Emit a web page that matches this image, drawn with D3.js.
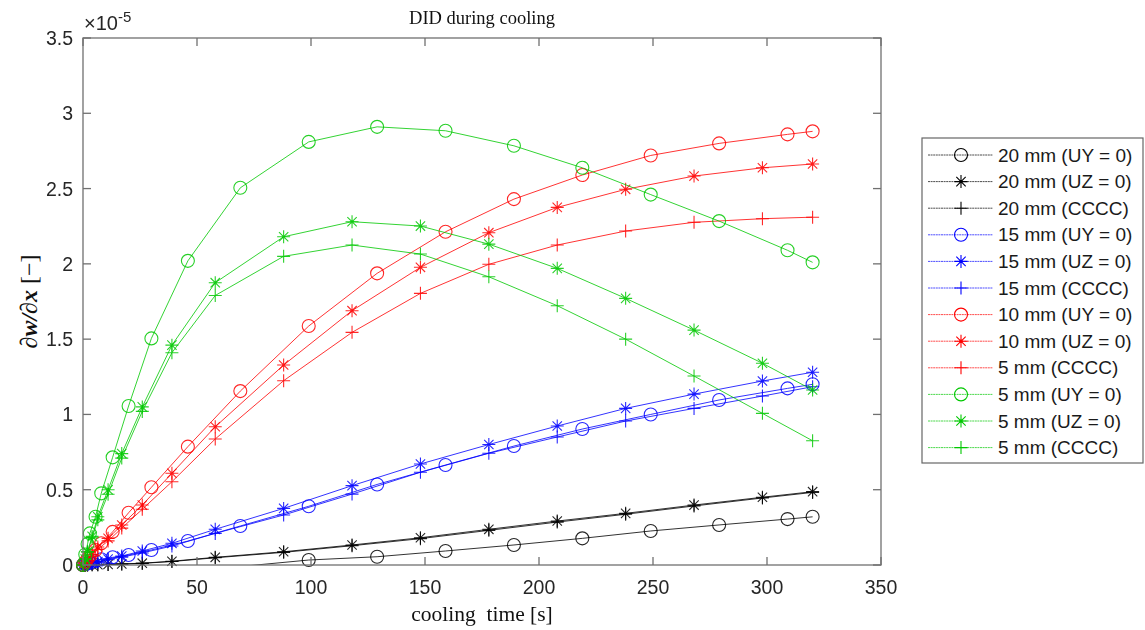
<!DOCTYPE html>
<html>
<head>
<meta charset="utf-8">
<script src="https://cdn.jsdelivr.net/npm/d3@7"></script>
<style>
  body { margin: 0; background: #fff; }
  svg { display: block; }
</style>
</head>
<body>
<script>
// time grids (s): circles use one grid, asterisk and plus series another
var tCircle = [0, 1, 2, 3, 5.5, 8, 13, 20, 30, 46, 69, 99, 129, 159, 189, 219, 249, 279, 309, 320];
var tStar = [0, 1, 2, 4, 6.5, 11, 17, 26, 39, 58, 88, 118, 148, 178, 208, 238, 268, 298, 320];

// dw/dx values, in units of 1e-5
var mm20UY = [0, -0.001, -0.002, -0.003, -0.005, -0.007, -0.011, -0.016, -0.022, -0.024, -0.01, 0.033, 0.055, 0.093, 0.133, 0.177, 0.226, 0.266, 0.305, 0.32];
var mm20UZ = [0, 0, 0, 0.001, 0.002, 0.004, 0.007, 0.012, 0.025, 0.051, 0.088, 0.133, 0.181, 0.237, 0.292, 0.343, 0.398, 0.45, 0.487];
var mm20CC = [0, 0, 0, 0.001, 0.002, 0.004, 0.006, 0.011, 0.023, 0.048, 0.084, 0.128, 0.175, 0.23, 0.285, 0.337, 0.392, 0.445, 0.482];
var mm15UY = [0, 0.005, 0.01, 0.015, 0.027, 0.038, 0.051, 0.066, 0.1, 0.159, 0.259, 0.39, 0.535, 0.664, 0.79, 0.903, 1.0, 1.096, 1.173, 1.2];
var mm15UZ = [0, 0.004, 0.008, 0.015, 0.022, 0.04, 0.06, 0.093, 0.144, 0.237, 0.376, 0.527, 0.671, 0.8, 0.923, 1.04, 1.135, 1.222, 1.28];
var mm15CC = [0, 0.003, 0.007, 0.013, 0.019, 0.035, 0.052, 0.08, 0.126, 0.21, 0.332, 0.471, 0.616, 0.742, 0.85, 0.956, 1.04, 1.122, 1.184];
var mm10UY = [0, 0.02, 0.04, 0.06, 0.1, 0.144, 0.22, 0.347, 0.516, 0.786, 1.155, 1.587, 1.937, 2.213, 2.43, 2.59, 2.72, 2.8, 2.86, 2.88];
var mm10UZ = [0, 0.015, 0.03, 0.07, 0.12, 0.177, 0.266, 0.398, 0.609, 0.918, 1.328, 1.689, 1.977, 2.207, 2.375, 2.495, 2.583, 2.638, 2.663];
var mm10CC = [0, 0.013, 0.027, 0.06, 0.105, 0.16, 0.245, 0.37, 0.553, 0.837, 1.224, 1.545, 1.804, 1.997, 2.125, 2.218, 2.276, 2.3, 2.31];
var mm5UY = [0, 0.07, 0.14, 0.21, 0.32, 0.476, 0.715, 1.056, 1.505, 2.02, 2.505, 2.81, 2.91, 2.884, 2.784, 2.638, 2.46, 2.284, 2.09, 2.01];
var mm5UZ = [0, 0.04, 0.09, 0.19, 0.32, 0.5, 0.74, 1.05, 1.46, 1.875, 2.18, 2.28, 2.251, 2.131, 1.97, 1.771, 1.56, 1.34, 1.162];
var mm5CC = [0, 0.038, 0.085, 0.18, 0.3, 0.47, 0.71, 1.02, 1.41, 1.79, 2.05, 2.125, 2.065, 1.914, 1.722, 1.5, 1.255, 1.007, 0.825];

var legendLabels = ["20 mm (UY = 0)", "20 mm (UZ = 0)", "20 mm (CCCC)",
  "15 mm (UY = 0)", "15 mm (UZ = 0)", "15 mm (CCCC)",
  "10 mm (UY = 0)", "10 mm (UZ = 0)", "5 mm (CCCC)",
  "5 mm (UY = 0)", "5 mm (UZ = 0)", "5 mm (CCCC)"];

var xTicks = [0, 50, 100, 150, 200, 250, 300, 350];
var yTicks = [0, 0.5, 1, 1.5, 2, 2.5, 3, 3.5];

var black = "#000000", blue = "#0000ff", red = "#ff0000", green = "#00c800";

var series = [
  {t: tCircle, v: mm20UY, c: black, m: "o"},
  {t: tStar, v: mm20UZ, c: black, m: "*"},
  {t: tStar, v: mm20CC, c: black, m: "+"},
  {t: tCircle, v: mm15UY, c: blue, m: "o"},
  {t: tStar, v: mm15UZ, c: blue, m: "*"},
  {t: tStar, v: mm15CC, c: blue, m: "+"},
  {t: tCircle, v: mm10UY, c: red, m: "o"},
  {t: tStar, v: mm10UZ, c: red, m: "*"},
  {t: tStar, v: mm10CC, c: red, m: "+"},
  {t: tCircle, v: mm5UY, c: green, m: "o"},
  {t: tStar, v: mm5UZ, c: green, m: "*"},
  {t: tStar, v: mm5CC, c: green, m: "+"}
];

var W = 1145, H = 630;
var plotL = 83, plotR = 881, plotT = 38, plotB = 565;

var svg = d3.select("body").append("svg").attr("width", W).attr("height", H);

var x = d3.scaleLinear().domain([0, 350]).range([plotL, plotR]);
var y = d3.scaleLinear().domain([0, 3.5]).range([plotB, plotT]);

svg.append("defs").append("clipPath").attr("id", "plotclip")
  .append("rect").attr("x", plotL).attr("y", plotT).attr("width", plotR - plotL).attr("height", plotB - plotT);

function markerPath(m, s) {
  if (m == "+") return `M${-s},0L${s},0M0,${-s}L0,${s}`;
  var d = s * 0.72;
  return `M${-s},0L${s},0M0,${-s}L0,${s}M${-d},${-d}L${d},${d}M${-d},${d}L${d},${-d}`;
}

function drawMarker(g, m, c, px, py) {
  if (m == "o") {
    g.append("circle").attr("cx", px).attr("cy", py).attr("r", 6.5)
      .attr("fill", "none").attr("stroke", c).attr("stroke-width", 1.1);
  } else {
    g.append("path").attr("transform", `translate(${px},${py})`)
      .attr("d", markerPath(m, 6.5)).attr("fill", "none").attr("stroke", c).attr("stroke-width", 1.1);
    if (m == "*") g.append("circle").attr("cx", px).attr("cy", py).attr("r", 1.6).attr("fill", c);
  }
}

var line = d3.line().x(function(d) { return x(d[0]); }).y(function(d) { return y(d[1]); });

var plot = svg.append("g");

series.forEach(function(s) {
  var pts = s.t.map(function(t, i) { return [t, s.v[i]]; });
  plot.append("path").datum(pts)
    .attr("clip-path", "url(#plotclip)")
    .attr("d", line)
    .attr("fill", "none")
    .attr("stroke", s.c)
    .attr("stroke-width", 1)
    .attr("stroke-opacity", 0.8);
  var mg = plot.append("g").attr("opacity", 0.85);
  pts.forEach(function(p) {
    if (p[1] >= 0) drawMarker(mg, s.m, s.c, x(p[0]), y(p[1]));
  });
});

// axes box and ticks (pointing inwards, on all four sides)
var axisColor = "#707070";
var ax = svg.append("g").attr("stroke", axisColor).attr("stroke-width", 1.3);
ax.append("rect").attr("x", plotL).attr("y", plotT).attr("width", plotR - plotL).attr("height", plotB - plotT).attr("fill", "none");
xTicks.forEach(function(t) {
  ax.append("line").attr("x1", x(t)).attr("x2", x(t)).attr("y1", plotB).attr("y2", plotB - 8);
  ax.append("line").attr("x1", x(t)).attr("x2", x(t)).attr("y1", plotT).attr("y2", plotT + 8);
});
yTicks.forEach(function(t) {
  ax.append("line").attr("x1", plotL).attr("x2", plotL + 8).attr("y1", y(t)).attr("y2", y(t));
  ax.append("line").attr("x1", plotR).attr("x2", plotR - 8).attr("y1", y(t)).attr("y2", y(t));
});

var tickFont = "'Liberation Sans', Arial, sans-serif";
svg.append("g").selectAll("text").data(xTicks).enter().append("text")
  .attr("x", function(d) { return x(d); }).attr("y", 594)
  .attr("text-anchor", "middle").attr("font-family", tickFont).attr("font-size", 19.5).attr("fill", "#262626")
  .text(function(d) { return d; });
svg.append("g").selectAll("text").data(yTicks).enter().append("text")
  .attr("x", 73).attr("y", function(d) { return y(d) + 7; })
  .attr("text-anchor", "end").attr("font-family", tickFont).attr("font-size", 19.5).attr("fill", "#262626")
  .text(function(d) { return d; });

// exponent
var ex = svg.append("text").attr("x", 84).attr("y", 30).attr("font-family", tickFont).attr("font-size", 20).attr("fill", "#262626");
ex.append("tspan").text("\u00d710");
ex.append("tspan").attr("dy", -8).attr("font-size", 15).text("-5");

// title and axis labels
var serif = "'Liberation Serif', 'Times New Roman', serif";
svg.append("text").attr("x", (plotL + plotR) / 2).attr("y", 24).attr("text-anchor", "middle")
  .attr("font-family", serif).attr("font-size", 18.5).attr("fill", "#111").text("DID during cooling");

svg.append("text").attr("x", (plotL + plotR) / 2).attr("y", 621).attr("text-anchor", "middle")
  .attr("font-family", serif).attr("font-size", 21.5).attr("fill", "#111")
  .attr("xml:space", "preserve").text("cooling  time [s]");

var yl = svg.append("text").attr("transform", `translate(37, ${(plotT + plotB) / 2}) rotate(-90)`)
  .attr("text-anchor", "middle").attr("font-family", serif).attr("font-size", 24).attr("fill", "#111");
yl.append("tspan").attr("font-style", "italic").attr("font-weight", "bold").text("\u2202w/\u2202x");
yl.append("tspan").text(" [\u2212]");

// legend
var lg = svg.append("g");
lg.append("rect").attr("x", 922).attr("y", 138).attr("width", 221).attr("height", 325)
  .attr("fill", "#fff").attr("stroke", "#666").attr("stroke-width", 1.2);
series.forEach(function(s, i) {
  var ly = 155 + i * 26.6;
  lg.append("line").attr("x1", 928).attr("x2", 993).attr("y1", ly).attr("y2", ly)
    .attr("stroke", s.c).attr("stroke-width", 1).attr("stroke-opacity", 0.7).attr("stroke-dasharray", "2,0.6");
  drawMarker(lg, s.m, s.c, 961, ly);
  lg.append("text").attr("x", 998).attr("y", ly + 6.5).attr("font-family", tickFont).attr("font-size", 19)
    .attr("fill", "#1a1a1a").text(legendLabels[i]);
});
</script>
</body>
</html>
